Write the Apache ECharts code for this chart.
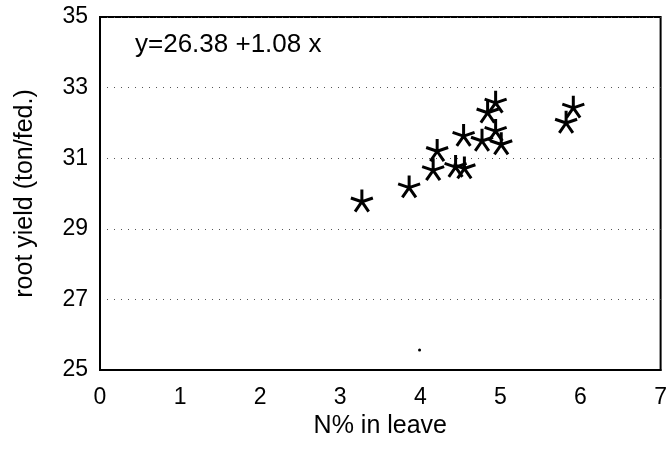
<!DOCTYPE html>
<html>
<head>
<meta charset="utf-8">
<script src="https://cdn.jsdelivr.net/npm/echarts@6/dist/echarts.min.js"></script>
<style>
  html, body { margin: 0; padding: 0; background: #fff; }
  #main { width: 670px; height: 451px; }
</style>
</head>
<body>
<div id="main"></div>
<script type="text/javascript">
// N% in leave vs root yield
var nLeave = [3.27, 3.86, 4.16, 4.21, 4.44, 4.55, 4.54, 4.77, 5.01, 4.94, 4.84, 4.94, 5.82, 5.91];
var rootYield = [29.8, 30.2, 30.69, 31.23, 30.78, 30.74, 31.66, 31.52, 31.42, 31.8, 32.32, 32.6, 32.03, 32.46];
var strayX = [3.99];
var strayY = [25.57];
var xTicks = [0, 1, 2, 3, 4, 5, 6, 7];
var yTicks = [25, 27, 29, 31, 33, 35];
var equation = 'y=26.38 +1.08 x';

var pts = [];
for (var i = 0; i < nLeave.length; i++) {
    pts.push([nLeave[i], rootYield[i]]);
}
var stray = [];
for (var i = 0; i < strayX.length; i++) {
    stray.push([strayX[i], strayY[i]]);
}

var asterisk = 'path://M0,0L0,-10M0,0L9.51,-3.09M0,0L5.88,8.09M0,0L-5.88,8.09M0,0L-9.51,-3.09';
var font = 'Liberation Sans, Arial, sans-serif';

var myChart = echarts.init(document.getElementById('main'));
myChart.setOption({
    animation: false,
    backgroundColor: '#fff',
    grid: {
        left: 100,
        right: 5,
        top: 17,
        bottom: 81,
        show: true,
        borderColor: '#000',
        borderWidth: 2
    },
    graphic: [{
        type: 'text',
        left: 135,
        top: 32,
        style: { text: equation, fill: '#000', font: '26px ' + font }
    }],
    xAxis: {
        type: 'value',
        min: xTicks[0],
        max: xTicks[xTicks.length - 1],
        interval: 1,
        name: 'N% in leave',
        nameLocation: 'middle',
        nameGap: 40,
        nameTextStyle: { color: '#000', fontSize: 25, fontFamily: font },
        axisLine: { show: true, lineStyle: { color: '#000', width: 2 } },
        axisTick: { show: false },
        axisLabel: { color: '#000', fontSize: 23, fontFamily: font, margin: 16 },
        splitLine: { show: false }
    },
    yAxis: {
        type: 'value',
        min: yTicks[0],
        max: yTicks[yTicks.length - 1],
        interval: 2,
        name: 'root yield (ton/fed.)',
        nameLocation: 'middle',
        nameGap: 62,
        nameTextStyle: { color: '#000', fontSize: 25, fontFamily: font },
        axisLine: { show: true, lineStyle: { color: '#000', width: 2 } },
        axisTick: { show: false },
        axisLabel: { color: '#000', fontSize: 23, fontFamily: font, margin: 12 },
        splitLine: { show: true, lineStyle: { color: '#555', type: [1, 6], width: 1 } }
    },
    series: [{
        type: 'scatter',
        data: pts,
        symbol: asterisk,
        symbolSize: 22,
        itemStyle: { color: 'rgba(0,0,0,0)', borderColor: '#000', borderWidth: 3, opacity: 1 }
    }, {
        type: 'scatter',
        data: stray,
        symbol: 'circle',
        symbolSize: 3,
        itemStyle: { color: '#000', opacity: 1 }
    }]
});
</script>
</body>
</html>
